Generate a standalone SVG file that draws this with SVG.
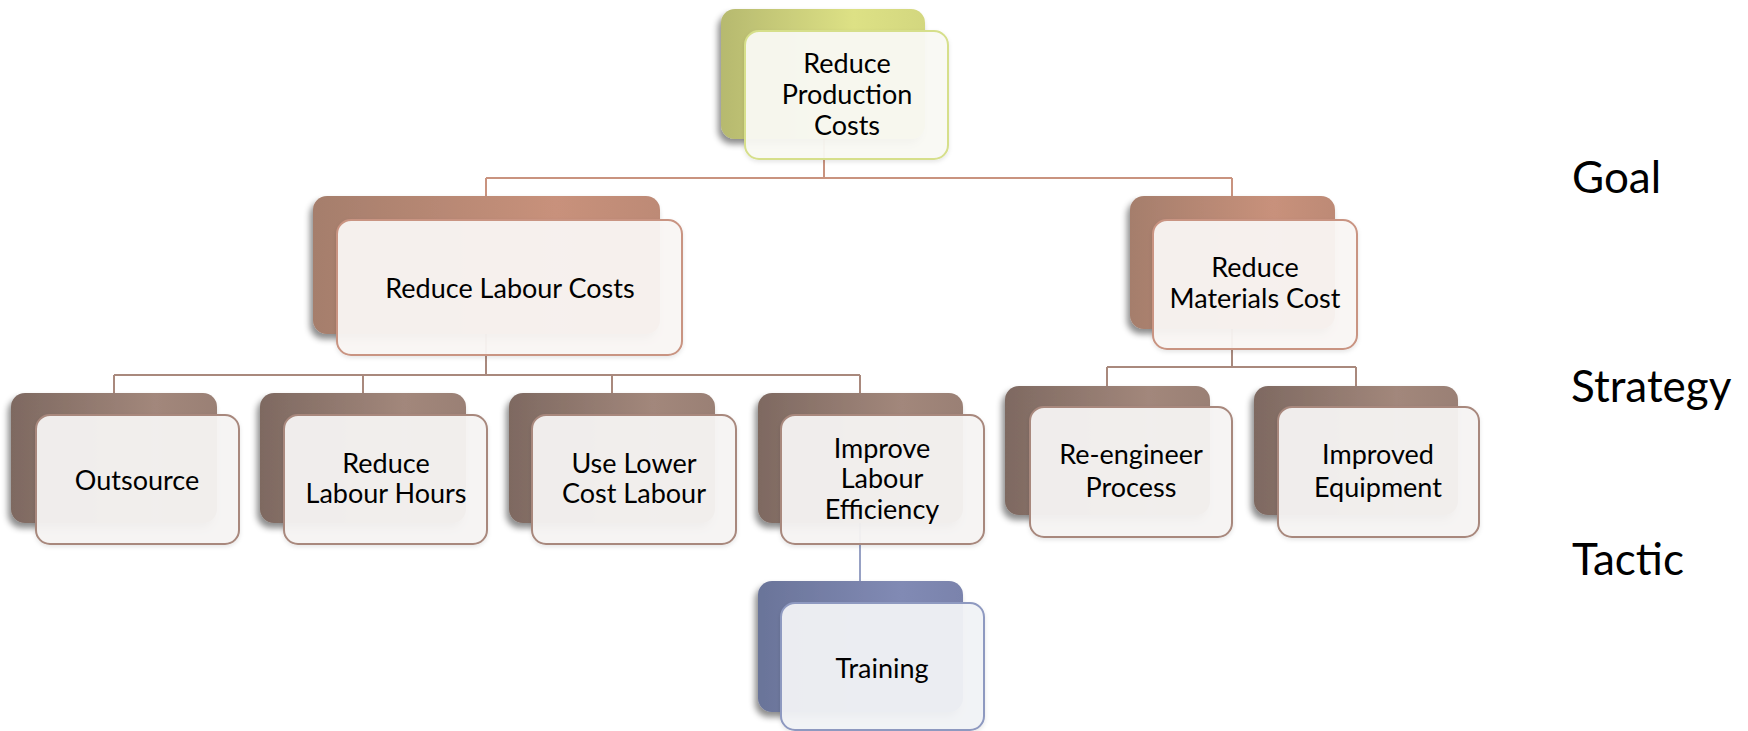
<svg xmlns="http://www.w3.org/2000/svg" width="1748" height="731" viewBox="0 0 1748 731">
<defs>
<linearGradient id="gGoal" x1="0" y1="0" x2="1" y2="0">
<stop offset="0" stop-color="#b6b96f"/><stop offset="0.65" stop-color="#dde185"/><stop offset="1" stop-color="#d3d77f"/>
</linearGradient>
<linearGradient id="gStr" x1="0" y1="0" x2="1" y2="0">
<stop offset="0" stop-color="#a57e6c"/><stop offset="0.7" stop-color="#c8917b"/><stop offset="1" stop-color="#bd8a76"/>
</linearGradient>
<linearGradient id="gTac" x1="0" y1="0" x2="1" y2="0">
<stop offset="0" stop-color="#7e6961"/><stop offset="0.7" stop-color="#a2877b"/><stop offset="1" stop-color="#9a8075"/>
</linearGradient>
<linearGradient id="gTrn" x1="0" y1="0" x2="1" y2="0">
<stop offset="0" stop-color="#6a7499"/><stop offset="0.7" stop-color="#818ab4"/><stop offset="1" stop-color="#7a83ac"/>
</linearGradient>
<filter id="sh" x="-10%" y="-10%" width="125%" height="130%">
<feDropShadow dx="-3" dy="5" stdDeviation="3" flood-color="#000" flood-opacity="0.45"/>
</filter>
<filter id="sh2" x="-10%" y="-10%" width="125%" height="130%">
<feDropShadow dx="0" dy="2" stdDeviation="2" flood-color="#000" flood-opacity="0.1"/>
</filter>
</defs>
<style>
text{font-family:Lato,"Liberation Sans",sans-serif;fill:#000;text-anchor:middle}
.t{font-size:27px}
.lvl{font-size:44px;text-anchor:start}
.back{filter:url(#sh)}
.front{stroke-width:2;filter:url(#sh2);fill-opacity:0.95}
.goal .back{fill:url(#gGoal)}
.goal .front{fill:#f9f9f3;stroke:#d6df8b}
.str .back{fill:url(#gStr)}
.str .front{fill:#f9f5f3;stroke:#c99482}
.tac .back{fill:url(#gTac)}
.tac .front{fill:#f5f3f2;stroke:#a8887d}
.trn .back{fill:url(#gTrn)}
.trn .front{fill:#f1f2f6;stroke:#8e99c0}
.c1{stroke:#c9937f;stroke-width:2;fill:none}
.c2{stroke:#a9897d;stroke-width:2;fill:none}
.c3{stroke:#97a1c4;stroke-width:2;fill:none}
</style>
<g id="connectors">
<path class="c1" d="M824 139V178M486 178H1232M486 178V196M1232 178V196"/>
<path class="c2" d="M486 334V375M114 375H860M114 375V393M363 375V393M612 375V393M860 375V393"/>
<path class="c2" d="M1232 329V367M1107 367H1356M1107 367V386M1356 367V386"/>
<path class="c3" d="M860 523V581"/>
</g>
<g id="n-goal" class="goal">
<rect class="back" x="721" y="9" width="204" height="130" rx="14"/>
<rect class="front" x="745" y="31" width="203" height="128" rx="14"/>
<text class="t" x="847" y="73">Reduce</text>
<text class="t" x="847" y="104">Production</text>
<text class="t" x="847" y="135">Costs</text>
</g>
<g id="n-labour" class="str">
<rect class="back" x="313" y="196" width="347" height="138" rx="14"/>
<rect class="front" x="337" y="220" width="345" height="135" rx="14"/>
<text class="t" x="510" y="298">Reduce Labour Costs</text>
</g>
<g id="n-materials" class="str">
<rect class="back" x="1130" y="196" width="205" height="133" rx="14"/>
<rect class="front" x="1153" y="220" width="204" height="129" rx="14"/>
<text class="t" x="1255" y="277">Reduce</text>
<text class="t" x="1255" y="308">Materials Cost</text>
</g>
<g id="n-outsource" class="tac">
<rect class="back" x="11" y="393" width="206" height="130" rx="14"/>
<rect class="front" x="36" y="415" width="203" height="129" rx="14"/>
<text class="t" x="137" y="490">Outsource</text>
</g>
<g id="n-hours" class="tac">
<rect class="back" x="260" y="393" width="206" height="130" rx="14"/>
<rect class="front" x="284" y="415" width="203" height="129" rx="14"/>
<text class="t" x="386" y="473">Reduce</text>
<text class="t" x="386" y="503">Labour Hours</text>
</g>
<g id="n-lower" class="tac">
<rect class="back" x="509" y="393" width="206" height="130" rx="14"/>
<rect class="front" x="532" y="415" width="204" height="129" rx="14"/>
<text class="t" x="634" y="473">Use Lower</text>
<text class="t" x="634" y="503">Cost Labour</text>
</g>
<g id="n-efficiency" class="tac">
<rect class="back" x="758" y="393" width="205" height="130" rx="14"/>
<rect class="front" x="781" y="415" width="203" height="129" rx="14"/>
<text class="t" x="882" y="458">Improve</text>
<text class="t" x="882" y="488">Labour</text>
<text class="t" x="882" y="519">Efficiency</text>
</g>
<g id="n-training" class="trn">
<rect class="back" x="758" y="581" width="205" height="131" rx="14"/>
<rect class="front" x="781" y="603" width="203" height="127" rx="14"/>
<text class="t" x="882" y="678">Training</text>
</g>
<g id="n-reengineer" class="tac">
<rect class="back" x="1005" y="386" width="205" height="129" rx="14"/>
<rect class="front" x="1030" y="407" width="202" height="130" rx="14"/>
<text class="t" x="1131" y="464">Re-engineer</text>
<text class="t" x="1131" y="497">Process</text>
</g>
<g id="n-equipment" class="tac">
<rect class="back" x="1254" y="386" width="204" height="129" rx="14"/>
<rect class="front" x="1278" y="407" width="201" height="130" rx="14"/>
<text class="t" x="1378" y="464">Improved</text>
<text class="t" x="1378" y="497">Equipment</text>
</g>
<g id="levels">
<text class="lvl" x="1572" y="193">Goal</text>
<text class="lvl" x="1571" y="402">Strategy</text>
<text class="lvl" x="1572" y="575">Tactic</text>
</g>
</svg>
